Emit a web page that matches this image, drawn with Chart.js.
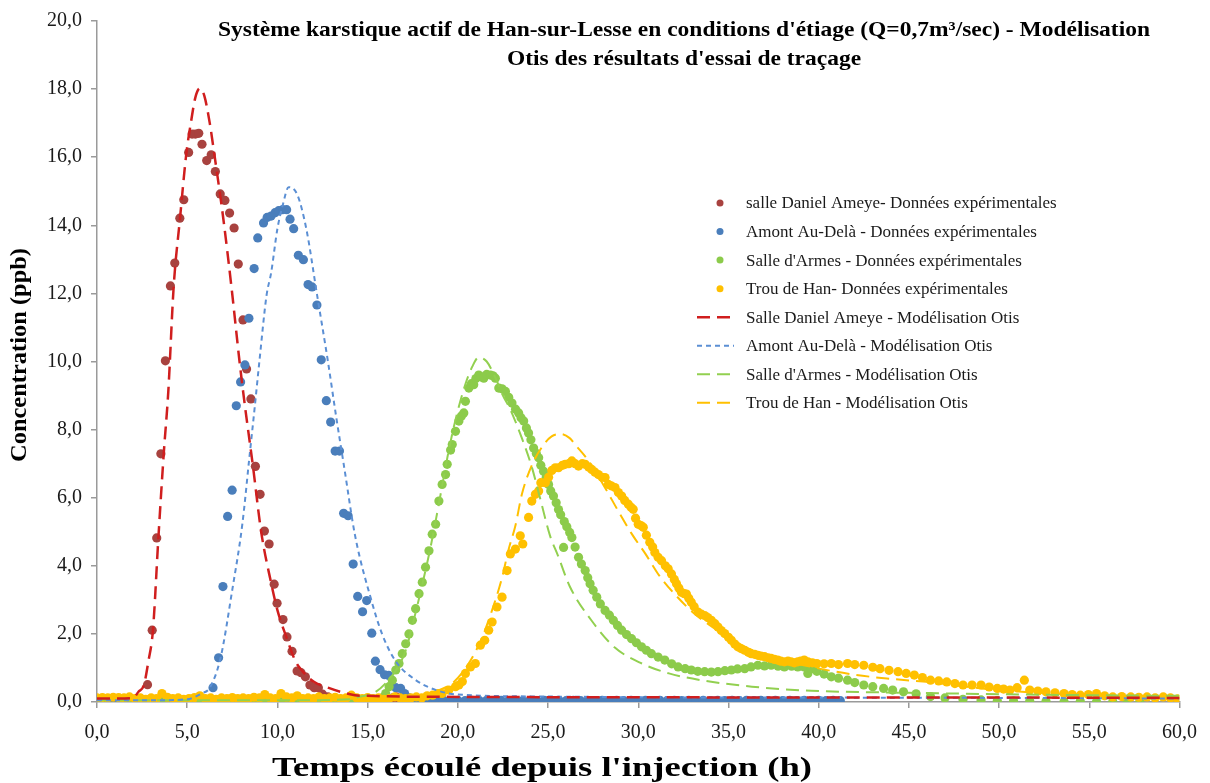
<!DOCTYPE html>
<html>
<head>
<meta charset="utf-8">
<script src="https://cdn.jsdelivr.net/npm/chart.js@4.4.1/dist/chart.umd.min.js"></script>
<style>
  html, body { margin: 0; padding: 0; background: #fff; }
  #wrap { width: 1210px; height: 783px; }
</style>
</head>
<body>
<div id="wrap"><canvas id="traceur" width="1210" height="783"></canvas></div>
<script>
// Titres et axes
const titleLines = [
  "Système karstique actif de Han-sur-Lesse en conditions d'étiage (Q=0,7m³/sec) - Modélisation",
  "Otis des résultats d'essai de traçage"
];
const xTitle = "Temps écoulé depuis l'injection (h)";
const yTitle = 'Concentration (ppb)';
const xTicks = [0, 5, 10, 15, 20, 25, 30, 35, 40, 45, 50, 55, 60];
const yTicks = [0, 2, 4, 6, 8, 10, 12, 14, 16, 18, 20];

// Données expérimentales : [temps (h), concentration (ppb)]
const ameyeMesures = [
  [0, 0.06], [0.3, 0.05], [0.6, 0.07], [0.9, 0.05], [1.2, 0.06], [1.5, 0.05], [1.8, 0.06], [2.1, 0.08], [2.4, 0.1],
  [2.8, 0.51], [3.06, 2.11], [3.31, 4.82], [3.54, 7.29], [3.79, 10.02], [4.07, 12.22], [4.31, 12.89], [4.59, 14.21],
  [4.81, 14.75], [5.08, 16.14], [5.27, 16.68], [5.45, 16.68], [5.64, 16.7], [5.82, 16.38], [6.08, 15.9], [6.33, 16.07],
  [6.56, 15.58], [6.83, 14.92], [7.09, 14.73], [7.35, 14.36], [7.6, 13.92], [7.83, 12.86], [8.09, 11.22], [8.29, 9.78],
  [8.53, 8.9], [8.78, 6.92], [9.04, 6.1], [9.28, 5.02], [9.54, 4.64], [9.82, 3.46], [9.98, 2.9], [10.31, 2.42],
  [10.53, 1.91], [10.81, 1.49], [11.09, 0.91], [11.31, 0.86], [11.55, 0.74], [11.8, 0.5], [12.04, 0.42], [12.27, 0.42],
  [12.5, 0.23], [12.8, 0.15], [13.1, 0.1], [13.5, 0.08], [14.0, 0.06], [14.5, 0.05], [15.0, 0.05], [15.5, 0.05],
  [16.0, 0.06], [16.4, 0.12], [16.6, 0.15], [16.8, 0.08], [17.2, 0.05]
];
const amontMesures = [
  [0, 0.06], [0.4, 0.05], [0.8, 0.06], [1.2, 0.05], [1.6, 0.05], [2.0, 0.06], [2.4, 0.05], [2.8, 0.05], [3.2, 0.06],
  [3.6, 0.05], [4.0, 0.05], [4.4, 0.06], [4.8, 0.05], [5.2, 0.05], [5.6, 0.06], [6.0, 0.08],
  [6.43, 0.42], [6.74, 1.3], [6.98, 3.39], [7.24, 5.45], [7.49, 6.22], [7.72, 8.7], [7.96, 9.4], [8.2, 9.9],
  [8.42, 11.27], [8.71, 12.73], [8.91, 13.63], [9.23, 14.07], [9.43, 14.23], [9.65, 14.27], [9.87, 14.37],
  [10.07, 14.43], [10.29, 14.46], [10.51, 14.46], [10.7, 14.18], [10.9, 13.9], [11.16, 13.12], [11.44, 12.99],
  [11.7, 12.26], [11.92, 12.19], [12.19, 11.66], [12.43, 10.05], [12.71, 8.85], [12.95, 8.22], [13.2, 7.37],
  [13.44, 7.37], [13.67, 5.54], [13.92, 5.47], [14.2, 4.05], [14.45, 3.1], [14.72, 2.65], [14.95, 2.98],
  [15.23, 2.02], [15.43, 1.2], [15.69, 0.95], [15.94, 0.8], [16.17, 0.78], [16.56, 0.42], [16.83, 0.4],
  [17.05, 0.25], [17.3, 0.12],
  [17.6, 0.05], [18.0, 0.04], [18.4, 0.05], [18.8, 0.04], [19.2, 0.05], [19.6, 0.04], [20.0, 0.05], [20.4, 0.04],
  [20.8, 0.05], [21.2, 0.04], [21.6, 0.05], [22.0, 0.04], [22.4, 0.05], [22.8, 0.04], [23.2, 0.05], [23.6, 0.04],
  [24.0, 0.05], [24.4, 0.04], [24.8, 0.05], [25.2, 0.04], [25.6, 0.05], [26.0, 0.04], [26.4, 0.05], [26.8, 0.04],
  [27.2, 0.05], [27.6, 0.04], [28.0, 0.05], [28.4, 0.04], [28.8, 0.05], [29.2, 0.04], [29.6, 0.05], [30.0, 0.04],
  [30.4, 0.05], [30.8, 0.04], [31.2, 0.05], [31.6, 0.04], [32.0, 0.05], [32.4, 0.04], [32.8, 0.05], [33.2, 0.04],
  [33.6, 0.05], [34.0, 0.04], [34.4, 0.05], [34.8, 0.04], [35.2, 0.05], [35.6, 0.04], [36.0, 0.05], [36.4, 0.04],
  [36.8, 0.05], [37.2, 0.04], [37.6, 0.05], [38.0, 0.04], [38.4, 0.05], [38.8, 0.04], [39.2, 0.05], [39.6, 0.04],
  [40.0, 0.05], [40.4, 0.04], [40.8, 0.05], [41.2, 0.04]
];
const armesMesures = [
  [1.4, 0.03], [1.8, 0.02], [2.2, 0.03], [2.6, 0.02], [3.0, 0.04], [3.4, 0.03], [3.8, 0.02], [4.2, 0.03], [4.6, 0.02],
  [5.0, 0.03], [5.4, 0.02], [5.8, 0.03], [6.2, 0.02], [6.6, 0.03], [7.0, 0.02], [7.4, 0.03], [7.8, 0.02], [8.2, 0.03],
  [8.6, 0.02], [9.0, 0.03], [9.4, 0.02], [9.8, 0.03], [10.2, 0.02], [10.6, 0.03], [11.0, 0.04], [11.4, 0.03],
  [11.8, 0.02], [12.2, 0.03], [12.6, 0.02], [13.0, 0.03], [13.4, 0.02], [13.8, 0.03], [14.2, 0.04], [14.6, 0.03],
  [15.0, 0.04], [15.4, 0.06],
  [15.8, 0.12], [16.0, 0.25], [16.19, 0.45], [16.37, 0.64], [16.56, 0.94], [16.74, 1.13], [16.92, 1.42], [17.11, 1.71],
  [17.29, 2.0], [17.48, 2.4], [17.66, 2.74], [17.85, 3.18], [18.03, 3.52], [18.21, 3.96], [18.4, 4.44], [18.58, 4.93],
  [18.77, 5.22], [18.95, 5.9], [19.13, 6.39], [19.32, 6.68], [19.41, 6.98], [19.6, 7.4], [19.69, 7.56], [19.87, 7.95],
  [20.06, 8.25], [20.2, 8.4], [20.33, 8.49], [20.42, 8.83], [20.61, 9.22], [20.75, 9.35], [20.88, 9.32], [21.0, 9.5],
  [21.16, 9.6], [21.3, 9.55], [21.44, 9.51], [21.6, 9.62], [21.81, 9.6], [21.95, 9.58], [22.08, 9.51], [22.27, 9.22],
  [22.45, 9.2], [22.64, 9.12], [22.82, 8.95], [23.0, 8.78], [23.2, 8.6], [23.37, 8.49], [23.5, 8.35], [23.65, 8.25],
  [23.8, 8.05], [23.92, 7.9], [24.05, 7.7], [24.2, 7.46], [24.35, 7.3], [24.48, 7.17], [24.6, 6.95], [24.75, 6.78],
  [24.9, 6.6], [25.03, 6.39], [25.15, 6.2], [25.3, 6.05], [25.45, 5.85], [25.58, 5.65], [25.7, 5.5], [25.86, 4.54],
  [25.9, 5.3], [26.04, 5.15], [26.2, 4.98], [26.32, 4.83], [26.5, 4.55], [26.69, 4.25], [26.85, 4.05], [27.06, 3.86],
  [27.2, 3.65], [27.33, 3.47], [27.5, 3.28], [27.7, 3.08], [27.9, 2.88], [28.16, 2.69], [28.4, 2.55], [28.62, 2.4],
  [28.85, 2.25], [29.08, 2.11], [29.35, 1.98], [29.63, 1.86], [29.9, 1.74], [30.18, 1.62], [30.45, 1.52], [30.73, 1.42],
  [31.1, 1.32], [31.47, 1.23], [31.85, 1.12], [32.21, 1.03], [32.6, 0.98], [32.94, 0.94], [33.3, 0.9], [33.68, 0.89],
  [34.05, 0.88], [34.42, 0.89], [34.8, 0.92], [35.16, 0.94], [35.5, 0.97], [35.9, 0.98], [36.25, 1.03], [36.63, 1.08],
  [37.0, 1.06], [37.37, 1.08], [37.75, 1.05], [38.1, 1.03], [38.5, 1.05], [38.84, 1.03], [39.2, 1.03], [39.4, 0.84],
  [39.6, 0.98], [39.9, 0.9], [40.3, 0.82], [40.7, 0.74], [41.1, 0.7], [41.6, 0.64], [42.0, 0.57], [42.5, 0.5],
  [43.0, 0.45], [43.6, 0.4], [44.1, 0.35], [44.7, 0.3], [45.4, 0.24], [46.2, 0.16], [47.0, 0.12], [48.0, 0.08],
  [49.0, 0.06], [49.9, 0.04], [50.8, 0.03], [51.7, 0.03], [52.6, 0.02], [53.6, 0.01], [54.5, 0.02], [55.4, 0.01],
  [56.3, 0.01], [57.1, 0.0], [57.8, 0.0]
];
const trouMesures = [
  [0, 0.12], [0.3, 0.13], [0.6, 0.12], [0.9, 0.14], [1.2, 0.13], [1.5, 0.12], [1.8, 0.15], [2.1, 0.1], [2.4, 0.12],
  [2.7, 0.08], [3.0, 0.12], [3.3, 0.1], [3.6, 0.25], [3.9, 0.14], [4.2, 0.1], [4.5, 0.12], [4.8, 0.08], [5.1, 0.1],
  [5.4, 0.13], [5.7, 0.18], [6.0, 0.1], [6.3, 0.12], [6.6, 0.08], [6.9, 0.12], [7.2, 0.1], [7.5, 0.13], [7.8, 0.1],
  [8.1, 0.12], [8.4, 0.1], [8.7, 0.14], [9.0, 0.12], [9.3, 0.22], [9.6, 0.12], [9.9, 0.1], [10.2, 0.25], [10.5, 0.15],
  [10.8, 0.12], [11.1, 0.18], [11.4, 0.1], [11.7, 0.12], [12.0, 0.1], [12.3, 0.15], [12.6, 0.1], [12.9, 0.12],
  [13.2, 0.14], [13.5, 0.1], [13.8, 0.12], [14.1, 0.2], [14.4, 0.12], [14.7, 0.1], [15.0, 0.13], [15.3, 0.1],
  [15.6, 0.12], [15.9, 0.08], [16.2, 0.1], [16.5, 0.15], [16.8, 0.12], [17.1, 0.1], [17.4, 0.12], [17.7, 0.15],
  [18.0, 0.12], [18.3, 0.18], [18.6, 0.2], [18.9, 0.25], [19.13, 0.25], [19.5, 0.35], [19.87, 0.45], [20.06, 0.5],
  [20.25, 0.6], [20.42, 0.84], [20.7, 1.03], [20.97, 1.13], [21.25, 1.67], [21.49, 1.81], [21.71, 2.11], [21.9, 2.35],
  [22.17, 2.79], [22.45, 3.08], [22.73, 3.86], [22.91, 4.35], [23.19, 4.49], [23.46, 4.88], [23.6, 4.64], [23.92, 5.42],
  [24.1, 5.9], [24.3, 6.1], [24.48, 6.2], [24.6, 6.44], [24.85, 6.44], [25.03, 6.6], [25.21, 6.8], [25.4, 6.88],
  [25.58, 6.88], [25.8, 6.95], [25.95, 6.98], [26.15, 7.0], [26.32, 7.08], [26.5, 7.0], [26.69, 6.93], [26.9, 7.0],
  [27.06, 6.98], [27.25, 6.9], [27.42, 6.83], [27.6, 6.75], [27.79, 6.68], [28.0, 6.6], [28.16, 6.59], [28.34, 6.39],
  [28.5, 6.35], [28.71, 6.3], [28.9, 6.15], [29.08, 6.05], [29.25, 5.92], [29.45, 5.81], [29.6, 5.72], [29.72, 5.66],
  [29.85, 5.4], [30.0, 5.22], [30.15, 5.18], [30.28, 5.13], [30.45, 4.9], [30.64, 4.69], [30.8, 4.55], [30.92, 4.39],
  [31.1, 4.25], [31.29, 4.15], [31.5, 4.0], [31.66, 3.91], [31.84, 3.76], [32.0, 3.6], [32.12, 3.47], [32.25, 3.35],
  [32.39, 3.22], [32.55, 3.18], [32.67, 3.17], [32.8, 3.05], [32.94, 2.93], [33.1, 2.8], [33.31, 2.64], [33.5, 2.58],
  [33.68, 2.54], [33.85, 2.48], [34.05, 2.4], [34.25, 2.3], [34.42, 2.2], [34.6, 2.1], [34.79, 2.01], [35.0, 1.9],
  [35.16, 1.81], [35.35, 1.7], [35.52, 1.62], [35.7, 1.57], [35.9, 1.52], [36.1, 1.46], [36.26, 1.42], [36.45, 1.4],
  [36.63, 1.37], [36.8, 1.35], [37.0, 1.33], [37.2, 1.3], [37.37, 1.28], [37.55, 1.25], [37.73, 1.23], [37.9, 1.2],
  [38.1, 1.18], [38.3, 1.2], [38.47, 1.18], [38.65, 1.15], [38.84, 1.18], [39.0, 1.2], [39.2, 1.23], [39.4, 1.18],
  [39.65, 1.15], [39.9, 1.13], [40.3, 1.12], [40.7, 1.13], [41.1, 1.1], [41.6, 1.13], [42.0, 1.1], [42.5, 1.08],
  [43.0, 1.02], [43.4, 0.98], [43.9, 0.93], [44.4, 0.89], [44.85, 0.84], [45.3, 0.79], [45.75, 0.72], [46.2, 0.64],
  [46.65, 0.62], [47.1, 0.59], [47.55, 0.54], [48.0, 0.5], [48.5, 0.5], [49.0, 0.5], [49.45, 0.44], [49.9, 0.4],
  [50.25, 0.38], [50.6, 0.35], [51.0, 0.42], [51.4, 0.64], [51.7, 0.35], [52.15, 0.32], [52.6, 0.3], [53.1, 0.27],
  [53.6, 0.25], [54.05, 0.22], [54.5, 0.2], [54.95, 0.22], [55.4, 0.25], [55.85, 0.18], [56.3, 0.15], [56.8, 0.16],
  [57.3, 0.15], [57.75, 0.14], [58.2, 0.15], [58.65, 0.12], [59.1, 0.15], [59.5, 0.12], [59.9, 0.09]
];

// Courbes modélisées (Otis)
const ameyeOtis = [
  [0, 0.1], [1, 0.1], [2, 0.12], [2.3, 0.3], [2.6, 0.5], [2.85, 1.2], [3.1, 2.1], [3.4, 4.8], [3.7, 7.3], [3.95, 9.1],
  [4.25, 12.2], [4.6, 14.2], [4.95, 16.1], [5.2, 17.0], [5.45, 17.75], [5.7, 18.02], [5.95, 17.8], [6.25, 17.0],
  [6.5, 16.1], [7.0, 14.2], [7.45, 12.2], [7.9, 10.0], [8.15, 8.9], [8.65, 6.9], [9.1, 5.0], [9.65, 3.5], [10.0, 2.7],
  [10.5, 1.9], [11.0, 1.2], [11.4, 0.9], [12.0, 0.6], [12.8, 0.42], [13.5, 0.3], [14.3, 0.2], [15, 0.18], [20, 0.15],
  [30, 0.14], [40, 0.13], [50, 0.13], [60, 0.12]
];
const amontOtis = [
  [0, 0.05], [3, 0.05], [5, 0.08], [5.8, 0.25], [6.25, 0.42], [6.85, 1.3], [7.5, 3.3], [8.05, 5.2], [8.45, 7.2],
  [8.75, 8.7], [9.0, 10.0], [9.4, 11.95], [9.65, 12.6], [10.0, 13.9], [10.3, 14.6], [10.62, 15.12], [11.1, 14.9],
  [11.6, 13.9], [12.2, 11.95], [12.8, 10.0], [13.25, 8.4], [13.7, 6.9], [14.3, 4.9], [15.2, 3.0], [15.8, 2.0],
  [16.55, 1.2], [17.65, 0.65], [18.8, 0.35], [20, 0.22], [25, 0.16], [30, 0.14], [40, 0.13], [50, 0.12], [60, 0.1]
];
const armesOtis = [
  [0, 0.05], [10, 0.05], [14, 0.08], [14.5, 0.15], [15.3, 0.25], [16.0, 0.55], [16.65, 1.0], [17.1, 1.5], [17.6, 2.5],
  [18.05, 3.5], [18.45, 4.45], [18.8, 5.4], [19.15, 6.4], [19.5, 7.4], [19.9, 8.35], [20.4, 9.3], [20.8, 9.85],
  [21.15, 10.12], [21.6, 10.0], [22.1, 9.5], [22.5, 9.0], [22.9, 8.6], [23.55, 7.75], [24.1, 6.9], [24.6, 5.9],
  [25.1, 4.9], [25.55, 4.3], [26.2, 3.4], [27.4, 2.4], [28.7, 1.6], [30.2, 1.13], [31.7, 0.84], [33.5, 0.64],
  [36.3, 0.45], [39.6, 0.33], [45, 0.27], [50, 0.23], [55, 0.2], [60, 0.18]
];
const trouOtis = [
  [0, 0.05], [15, 0.05], [17.5, 0.1], [18.95, 0.35], [19.7, 0.55], [20.6, 1.13], [21.35, 1.9], [21.9, 2.7],
  [22.45, 3.65], [22.8, 4.45], [23.2, 5.2], [23.55, 6.1], [24.1, 6.95], [24.75, 7.55], [25.2, 7.8], [25.7, 7.87],
  [26.2, 7.75], [26.5, 7.56], [27.25, 7.08], [28.15, 6.3], [28.9, 5.6], [29.65, 4.93], [30.4, 4.35], [31.1, 3.76],
  [32.0, 3.18], [33.1, 2.6], [34.4, 2.1], [35.9, 1.62], [37.4, 1.33], [39.6, 1.03], [42, 0.8], [44, 0.68],
  [46.2, 0.58], [48, 0.46], [50, 0.35], [55, 0.2], [60, 0.12]
];

const SERIF = '"Liberation Serif", "Times New Roman", serif';
const fmt = v => v.toFixed(1).replace('.', ',');
const pts = arr => arr.map(([x, y]) => ({ x, y }));

function mesures(label, data, color, order) {
  return {
    label, data: pts(data), order,
    showLine: false,
    pointRadius: 4.6, pointHoverRadius: 4.6,
    pointBackgroundColor: color, pointBorderWidth: 0,
    borderColor: color, backgroundColor: color
  };
}
function modele(label, data, color, width, dash, order) {
  return {
    label, data: pts(data), order,
    showLine: true, fill: false,
    pointRadius: 0, pointHoverRadius: 0,
    borderColor: color, backgroundColor: color,
    borderWidth: width, borderDash: dash,
    cubicInterpolationMode: 'monotone'
  };
}

const datasets = [
  mesures('salle Daniel Ameye- Données expérimentales', ameyeMesures, '#A8423F', 5),
  mesures('Amont Au-Delà - Données expérimentales', amontMesures, '#4A7EBB', 4),
  mesures("Salle d'Armes - Données expérimentales", armesMesures, '#8CCB4B', 3),
  mesures('Trou de Han- Données expérimentales', trouMesures, '#FFC000', 2),
  modele('Salle Daniel Ameye - Modélisation Otis', ameyeOtis, '#D01E1E', 2.5, [13, 7], 1),
  modele('Amont Au-Delà - Modélisation Otis', amontOtis, '#5B8FD4', 2, [5, 4], 1),
  modele("Salle d'Armes - Modélisation Otis", armesOtis, '#92D050', 2, [13, 7], 1),
  modele('Trou de Han - Modélisation Otis', trouOtis, '#FFC000', 2, [13, 7], 1)
];

// titre, titres d'axes et légende placée dans la zone de tracé
const habillage = {
  id: 'habillage',
  afterDraw(chart) {
    const ctx = chart.ctx;
    const area = chart.chartArea;
    ctx.save();
    ctx.fillStyle = '#000';
    ctx.textAlign = 'center';
    ctx.textBaseline = 'middle';

    ctx.font = 'bold 21px ' + SERIF;
    const sx = 932 / ctx.measureText(titleLines[0]).width;
    titleLines.forEach((t, i) => {
      ctx.save();
      ctx.translate(684, 31 + i * 29);
      ctx.scale(sx, 1);
      ctx.fillText(t, 0, 0);
      ctx.restore();
    });

    ctx.font = 'bold 27px ' + SERIF;
    ctx.save();
    ctx.translate(542, 769);
    ctx.scale(540 / ctx.measureText(xTitle).width, 1);
    ctx.fillText(xTitle, 0, 0);
    ctx.restore();

    ctx.font = 'bold 24px ' + SERIF;
    ctx.save();
    ctx.translate(20, 355);
    ctx.rotate(-Math.PI / 2);
    ctx.scale(214 / ctx.measureText(yTitle).width, 1);
    ctx.fillText(yTitle, 0, 0);
    ctx.restore();

    // légende
    ctx.font = '17px ' + SERIF;
    ctx.textAlign = 'left';
    ctx.fillStyle = '#1a1a1a';
    const lx = area.left + 600, ly = area.top + 182, step = 28.55;
    chart.data.datasets.forEach((ds, i) => {
      const y = ly + i * step;
      ctx.save();
      if (ds.showLine) {
        ctx.strokeStyle = ds.borderColor;
        ctx.lineWidth = ds.borderWidth;
        ctx.setLineDash(ds.borderDash);
        ctx.beginPath();
        ctx.moveTo(lx, y);
        ctx.lineTo(lx + 37, y);
        ctx.stroke();
      } else {
        ctx.fillStyle = ds.pointBackgroundColor;
        ctx.beginPath();
        ctx.arc(lx + 23, y, 3.5, 0, Math.PI * 2);
        ctx.fill();
      }
      ctx.restore();
      ctx.fillText(ds.label, lx + 49, y + 1);
    });
    ctx.restore();
  }
};

const axisColor = '#9A9A9A';
new Chart(document.getElementById('traceur'), {
  type: 'scatter',
  data: { datasets },
  plugins: [habillage],
  options: {
    responsive: false,
    devicePixelRatio: 1,
    animation: false,
    layout: { padding: { top: 18, right: 27, left: 0, bottom: 0 } },
    plugins: { legend: { display: false }, tooltip: { enabled: false }, title: { display: false } },
    scales: {
      x: {
        type: 'linear', min: 0, max: 60,
        afterBuildTicks: s => { s.ticks = xTicks.map(value => ({ value })); },
        afterFit: s => { s.height = 81; },
        border: { display: true, color: axisColor, width: 1.5 },
        grid: { drawOnChartArea: false, drawTicks: true, tickLength: 6, color: axisColor, lineWidth: 1.5 },
        ticks: { autoSkip: false, maxRotation: 0, padding: 13, color: '#1a1a1a', font: { family: SERIF, size: 20 }, callback: fmt }
      },
      y: {
        type: 'linear', min: 0, max: 20,
        afterBuildTicks: s => { s.ticks = yTicks.map(value => ({ value })); },
        afterFit: s => { s.width = 97; },
        border: { display: true, color: axisColor, width: 1.5 },
        grid: { drawOnChartArea: false, drawTicks: true, tickLength: 6, color: axisColor, lineWidth: 1.5 },
        ticks: { padding: 9, color: '#1a1a1a', font: { family: SERIF, size: 20 }, callback: fmt }
      }
    }
  }
});
</script>
</body>
</html>
